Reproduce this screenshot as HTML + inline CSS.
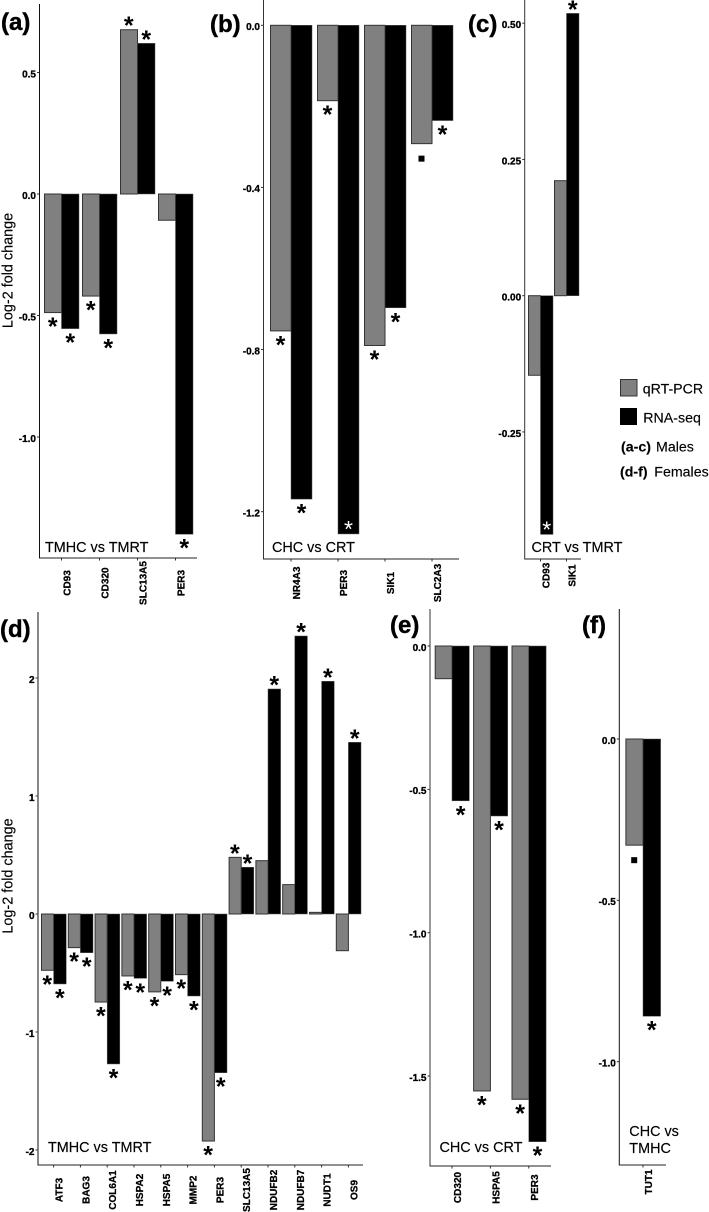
<!DOCTYPE html>
<html lang="en">
<head>
<meta charset="utf-8">
<title>Log-2 fold change: qRT-PCR vs RNA-seq</title>
<style>
  html, body { margin: 0; padding: 0; background: #fff; }
  svg { display: block; font-family: "Liberation Sans", Arial, sans-serif; filter: blur(0.3px); }
  .panel-letter { font-size: 24px; font-weight: bold; fill: #000; stroke: #000; stroke-width: 0.4px; }
  .panel-title { font-size: 14.4px; fill: #000; stroke: #000; stroke-width: 0.15px; }
  .axis-title { font-size: 14.4px; fill: #000; stroke: #000; stroke-width: 0.15px; }
  .legend-text { font-size: 14.2px; fill: #000; stroke: #000; stroke-width: 0.15px; }
  .legend-bold { font-size: 14.2px; font-weight: bold; fill: #000; stroke: #000; stroke-width: 0.15px; }
  .tick-label { font-size: 10px; font-weight: bold; fill: #000; stroke: #000; stroke-width: 0.3px; }
  .gene-label { font-size: 10px; font-weight: bold; fill: #000; stroke: #000; stroke-width: 0.25px; }
</style>
</head>
<body>
<svg id="figure" xmlns="http://www.w3.org/2000/svg" width="709" height="1212" viewBox="0 0 709 1212">
  <rect x="0" y="0" width="709" height="1212" fill="#fff"/>

  <text class="panel-letter" x="1" y="30">(a)</text>
  <text class="panel-letter" x="210" y="32">(b)</text>
  <text class="panel-letter" x="468" y="32">(c)</text>
  <text class="panel-letter" x="0" y="637">(d)</text>
  <text class="panel-letter" x="390" y="633">(e)</text>
  <text class="panel-letter" x="582" y="633">(f)</text>

  <text class="axis-title" transform="translate(12.5,270.5) rotate(-90)" text-anchor="middle">Log-2 fold change</text>
  <text class="axis-title" transform="translate(12.5,876) rotate(-90)" text-anchor="middle">Log-2 fold change</text>

  <g id="panels"></g>

  <text class="panel-title" x="45" y="552">TMHC vs TMRT</text>
  <text class="panel-title" x="272" y="552">CHC vs CRT</text>
  <text class="panel-title" x="531.5" y="552">CRT vs TMRT</text>
  <text class="panel-title" x="48" y="1152">TMHC vs TMRT</text>
  <text class="panel-title" x="439.5" y="1152">CHC vs CRT</text>
  <text class="panel-title" x="629.3" y="1136">CHC vs</text>
  <text class="panel-title" x="629.3" y="1153">TMHC</text>

  <g>
    <rect x="620.5" y="379.5" width="16.5" height="16.5" fill="#808080" stroke="#333" stroke-width="1"/>
    <text class="legend-text" x="642.7" y="393.3">qRT-PCR</text>
    <rect x="620" y="408" width="17" height="17" fill="#000"/>
    <text class="legend-text" x="643.3" y="422.3">RNA-seq</text>
    <text class="legend-bold" x="621" y="451.7">(a-c)</text>
    <text class="legend-text" x="656" y="451.7">Males</text>
    <text class="legend-bold" x="620" y="476.7">(d-f)</text>
    <text class="legend-text" x="654.3" y="476.7">Females</text>
  </g>
</svg>

<script>
// Panel (a)
var aGenes = ['CD93', 'CD320', 'SLC13A5', 'PER3'];
var aQpcr = [-0.488, -0.42, 0.676, -0.108];
var aRnaseq = [-0.554, -0.576, 0.62, -1.40];
var aQpcrSig = ['*', '*', '*', ''];
var aRnaseqSig = ['*', '*', '*', '*'];
var aTicks = [0.5, 0, -0.5, -1];
var aTickLabels = ['0.5', '0.0', '-0.5', '-1.0'];

// Panel (b)
var bGenes = ['NR4A3', 'PER3', 'SIK1', 'SLC2A3'];
var bQpcr = [-0.754, -0.186, -0.79, -0.292];
var bRnaseq = [-1.169, -1.255, -0.697, -0.235];
var bQpcrSig = ['*', '*', '*', 's'];
var bRnaseqSig = ['*', 'w', '*', '*'];
var bTicks = [0, -0.4, -0.8, -1.2];
var bTickLabels = ['0.0', '-0.4', '-0.8', '-1.2'];

// Panel (c)
var cGenes = ['CD93', 'SIK1'];
var cQpcr = [-0.146, 0.211];
var cRnaseq = [-0.438, 0.518];
var cQpcrSig = ['', ''];
var cRnaseqSig = ['w', '*'];
var cTicks = [0.5, 0.25, 0, -0.25];
var cTickLabels = ['0.50', '0.25', '0.00', '-0.25'];

// Panel (d)
var dGenes = ['ATF3', 'BAG3', 'COL6A1', 'HSPA2', 'HSPA5', 'MMP2', 'PER3', 'SLC13A5', 'NDUFB2', 'NDUFB7', 'NUDT1', 'OS9'];
var dQpcr = [-0.477, -0.285, -0.746, -0.525, -0.66, -0.514, -1.924, 0.48, 0.452, 0.249, 0.014, -0.311];
var dRnaseq = [-0.593, -0.328, -1.271, -0.545, -0.57, -0.695, -1.345, 0.396, 1.907, 2.356, 1.972, 1.455];
var dQpcrSig = ['*', '*', '*', '*', '*', '*', '*', '*', '', '', '', ''];
var dRnaseqSig = ['*', '*', '*', '*', '*', '*', '*', '*', '*', '*', '*', '*'];
var dTicks = [2, 1, 0, -1, -2];
var dTickLabels = ['2', '1', '0', '-1', '-2'];

// Panel (e)
var eGenes = ['CD320', 'HSPA5', 'PER3'];
var eQpcr = [-0.114, -1.552, -1.581];
var eRnaseq = [-0.54, -0.593, -1.729];
var eQpcrSig = ['', '*', '*'];
var eRnaseqSig = ['*', '*', '*'];
var eTicks = [0, -0.5, -1, -1.5];
var eTickLabels = ['0.0', '-0.5', '-1.0', '-1.5'];

// Panel (f)
var fGenes = ['TUT1'];
var fQpcr = [-0.329];
var fRnaseq = [-0.859];
var fQpcrSig = ['s'];
var fRnaseqSig = ['*'];
var fTicks = [0, -0.5, -1];
var fTickLabels = ['0.0', '-0.5', '-1.0'];

var SVG_NS = 'http://www.w3.org/2000/svg';

function node(tag, attrs, parent) {
  var el = document.createElementNS(SVG_NS, tag);
  for (var k in attrs) { el.setAttribute(k, attrs[k]); }
  parent.appendChild(el);
  return el;
}

function drawMark(kind, x, barEnd, value, parent, gene, series) {
  if (!kind) { return; }
  var el;
  var dir = value < 0 ? 1 : -1;
  if (kind === 's') {
    el = node('rect', { x: x - 3, y: barEnd + 12, width: 6, height: 6, fill: '#000' }, parent);
    
    
    return;
  }
  if (kind === 'w') {
    el = node('text', { x: x, y: barEnd - 8 + 11, 'text-anchor': 'middle', 'font-size': 23, fill: '#fff' }, parent);
    el.textContent = '*';
    
    
    return;
  }
  var cy = dir > 0 ? barEnd + 11 : barEnd - 7;
  el = node('text', { x: x, y: cy + 11.5, 'text-anchor': 'middle', 'font-size': 25, 'font-weight': 'bold', fill: '#000' }, parent);
  el.textContent = '*';
  
  
}

function drawPanel(id, layout, genes, qpcr, rnaseq, qpcrSig, rnaseqSig, ticks, tickLabels) {
  var root = document.getElementById('panels');
  var g = node('g', {}, root);
  
  

  function yScale(v) { return layout.zeroY - v * layout.unit; }
  function xBand(i) { return layout.firstX + i * layout.step; }

  genes.forEach(function (gene, i) {
    var cx = xBand(i);
    var zero = yScale(0);
    var yQ = yScale(qpcr[i]);
    var yR = yScale(rnaseq[i]);
    var slug = gene.toLowerCase();

    var qBar = node('rect', {
      x: cx - layout.barW + 0.5, y: Math.min(zero, yQ),
      width: layout.barW - 0.5, height: Math.abs(yQ - zero),
      fill: '#808080', stroke: '#333', 'stroke-width': 1
    }, g);
    
    

    var rBar = node('rect', {
      x: cx, y: Math.min(zero, yR),
      width: layout.barW, height: Math.abs(yR - zero),
      fill: '#000', stroke: '#555', 'stroke-width': 0.5
    }, g);
    
    

    drawMark(qpcrSig[i], cx - layout.barW / 2, yQ, qpcr[i], g, slug, 'qrt-pcr');
    drawMark(rnaseqSig[i], cx + layout.barW / 2, yR, rnaseq[i], g, slug, 'rna-seq');

    var xt = node('line', { x1: cx, x2: cx, y1: layout.axisBottom, y2: layout.axisBottom + 2.5, stroke: '#333', 'stroke-width': 1 }, g);
    
    

    var lbl = node('text', {
      class: 'gene-label', 'text-anchor': 'middle',
      transform: 'translate(' + (cx + 9) + ',' + layout.labelY + ') rotate(-90)'
    }, g);
    lbl.textContent = gene;
    
    
  });

  ticks.forEach(function (t, i) {
    var y = yScale(t);
    var tk = node('line', { x1: layout.axisX - 2.5, x2: layout.axisX, y1: y, y2: y, stroke: '#333', 'stroke-width': 1 }, g);
    
    
    var tl = node('text', { class: 'tick-label', 'text-anchor': 'end', x: layout.axisX - 3.5, y: y + 4.8 }, g);
    tl.textContent = tickLabels[i];
    
    
  });

  var yAxis = node('line', { x1: layout.axisX, x2: layout.axisX, y1: layout.axisTop, y2: layout.axisBottom + 0.5, stroke: layout.axisColor, 'stroke-width': layout.axisWidth }, g);
  
  
  var xAxis = node('line', { x1: layout.axisX, x2: layout.axisRight, y1: layout.axisBottom, y2: layout.axisBottom, stroke: '#222', 'stroke-width': 1 }, g);
  
  
}

drawPanel('a',
  { zeroY: 194, unit: 243, firstX: 61.5, step: 38, barW: 17.5, axisX: 39.5, axisTop: 4, axisBottom: 558, axisRight: 197, labelY: 583, axisColor: '#111', axisWidth: 1 },
  aGenes, aQpcr, aRnaseq, aQpcrSig, aRnaseqSig, aTicks, aTickLabels);

drawPanel('b',
  { zeroY: 25.3, unit: 405.3, firstX: 291, step: 47, barW: 21, axisX: 263.5, axisTop: 0, axisBottom: 559, axisRight: 459, labelY: 583, axisColor: '#333', axisWidth: 1 },
  bGenes, bQpcr, bRnaseq, bQpcrSig, bRnaseqSig, bTicks, bTickLabels);

drawPanel('c',
  { zeroY: 295.7, unit: 545, firstX: 540.5, step: 26, barW: 12.5, axisX: 524.7, axisTop: 0, axisBottom: 559, axisRight: 581, labelY: 575.5, axisColor: '#333', axisWidth: 1 },
  cGenes, cQpcr, cRnaseq, cQpcrSig, cRnaseqSig, cTicks, cTickLabels);

drawPanel('d',
  { zeroY: 914, unit: 118, firstX: 53.6, step: 26.8, barW: 12.6, axisX: 38, axisTop: 612, axisBottom: 1165, axisRight: 363, labelY: 1190, axisColor: '#555', axisWidth: 1.4 },
  dGenes, dQpcr, dRnaseq, dQpcrSig, dRnaseqSig, dTicks, dTickLabels);

drawPanel('e',
  { zeroY: 646, unit: 286.7, firstX: 452, step: 38.4, barW: 17.3, axisX: 430, axisTop: 609, axisBottom: 1166, axisRight: 551, labelY: 1187.5, axisColor: '#333', axisWidth: 1 },
  eGenes, eQpcr, eRnaseq, eQpcrSig, eRnaseqSig, eTicks, eTickLabels);

drawPanel('f',
  { zeroY: 739, unit: 322.7, firstX: 643, step: 40, barW: 17.6, axisX: 619.3, axisTop: 609, axisBottom: 1165, axisRight: 666, labelY: 1182, axisColor: '#111', axisWidth: 1 },
  fGenes, fQpcr, fRnaseq, fQpcrSig, fRnaseqSig, fTicks, fTickLabels);
</script>
</body>
</html>
